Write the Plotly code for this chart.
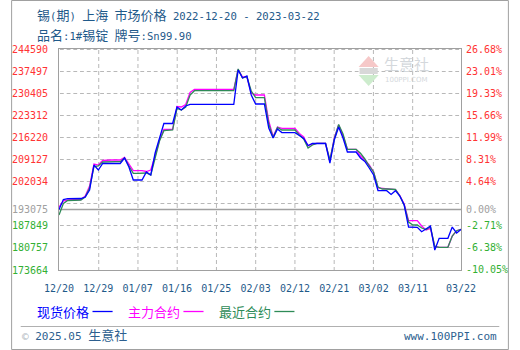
import math
import re
import pandas as pd
import plotly.graph_objects as go

# ---------------- data ----------------
DATES = pd.date_range("2022-12-20", "2023-03-22", freq="D").strftime("%Y-%m-%d").tolist()

# 现货价格 (spot)
SPOT = [
    193075, 196290, 196550, 196550, 196550, 196610,                      # 12/20-12/25
    197090, 199340, 207360, 205760, 207840, 207840, 207840,              # 12/26-01/01
    207840, 207840, 209610, 206720, 202550, 202550, 202550,              # 01/02-01/08
    205120, 204150, 211210, 216030, 220680, 220680, 220680,              # 01/09-01/15
    225980, 225010, 226300, 226840, 226840, 226840, 226840,              # 01/16-01/22
    226840, 226840, 226840, 226840, 226840, 226840, 226840,              # 01/23-01/29
    237850, 235280, 235920, 229830, 226940, 226940, 226940,              # 01/30-02/05
    219240, 216030, 218920, 217790, 217730, 217730, 217730,              # 02/06-02/12
    216830, 215870, 213620, 214260, 214260, 214260, 214260,              # 02/13-02/19
    208000, 215390, 219560, 216030, 211530, 211530, 211530,              # 02/20-02/26
    209610, 208490, 206400, 204150, 199180, 199110, 199110,              # 02/27-03/05
    197890, 199110, 197410, 194520, 187460, 187370, 187370,              # 03/06-03/12
    185960, 186820, 187790, 180080, 183840, 183840, 183840,              # 03/13-03/19
    187460, 185540, 186660,                                              # 03/20-03/22
]

# 主力合约 (main contract)
MAIN = [
    193880, 195810, 196130, 196130, 196130, 196290,
    197410, 200620, 207680, 207360, 208810, 208970, 208970,
    208970, 208970, 209830, 207680, 205530, 205530, 205530,
    205280, 205760, 210250, 215390, 218760, 218820, 218820,
    226140, 225980, 226780, 230630, 231660, 231660, 231660,
    231660, 231660, 231660, 231660, 231660, 231660, 231660,
    238010, 235600, 235600, 230470, 229830, 229830, 229830,
    221480, 216510, 219560, 219140, 219140, 219140, 219140,
    217470, 216350, 213460, 214100, 214330, 214330, 214330,
    208650, 216030, 220200, 216670, 212400, 212400, 212400,
    210250, 208970, 207360, 205120, 199980, 199880, 199880,
    199560, 199500, 197570, 194850, 189490, 189490, 189490,
    187790, 186500, 187050, 181210, 180950, 180950, 180950,
    184580, 186280, 186730,
]

# 最近合约 (nearest contract)
NEAR = [
    191320, 195010, 195970, 195970, 195970, 196130,
    197090, 199980, 206880, 207040, 208320, 208420, 208420,
    208420, 208420, 209610, 207040, 204700, 204700, 204700,
    204790, 204150, 209930, 215060, 218370, 218590, 218590,
    225490, 225010, 225980, 229830, 231210, 231210, 231210,
    231210, 231210, 231210, 231210, 231210, 231210, 231210,
    238170, 235280, 235700, 231110, 228960, 228960, 228960,
    220520, 216190, 219400, 218590, 218590, 218590, 218590,
    216990, 215710, 212820, 213780, 214330, 214330, 214330,
    208970, 215710, 220360, 217310, 212400, 212400, 212400,
    211120, 209290, 207040, 205120, 200300, 199660, 199660,
    199560, 199500, 197410, 194520, 189070, 188110, 188110,
    187140, 186660, 187560, 181210, 180950, 180950, 180950,
    184580, 186280, 186730,
]

SERIES_NAMES = ["现货价格", "主力合约", "最近合约"]
SERIES_COLORS = ["#0000ff", "#ff00ff", "#2e8b57"]

BASE = SPOT[0]
Y_MIN, Y_MAX = 173664, 244590
LEFT_TICKS = [244590, 237497, 230405, 223312, 216220, 209127, 202034, 193075, 187849, 180757, 173664]
GRID_Y = [180757, 187849, 194942, 202034, 209127, 216220, 223312, 230405, 237497, 244590]
RIGHT_TICKS = [26.68, 23.01, 19.33, 15.66, 11.99, 8.31, 4.64, 0.00, -2.71, -6.38, -10.05]
X_TICKS = ["2022-12-20", "2022-12-29", "2023-01-07", "2023-01-16", "2023-01-25", "2023-02-03",
           "2023-02-12", "2023-02-21", "2023-03-02", "2023-03-11", "2023-03-22"]
X_LABELS = ["12/20", "12/29", "01/07", "01/16", "01/25", "02/03",
            "02/12", "02/21", "03/02", "03/11", "03/22"]

TITLE1 = "锡(期) 上海 市场价格 2022-12-20 - 2023-03-22"
TITLE2 = "品名:1#锡锭 牌号:Sn99.90"
FOOT_LEFT = "2025.05 生意社"
FOOT_RIGHT = "www.100PPI.com"

# ---------------- style ----------------
RED, GRAY, GREEN = "#ff3333", "#a0a0a0", "#33b033"
TEXTBLUE = "#1f5a8a"
MONO = "DejaVu Sans Mono, Noto Sans CJK SC"
GRIDC = "#b8b8b8"
DASH_ON, DASH_OFF = 4, 3   # px

W, H = 520, 350
L, R, T, B = 50, 50, 49, 80
PW, PH = W - L - R, H - T - B


def px(x):
    return (x - L) / PW


def py(y):
    return (H - B - y) / PH


def mix(s, size=13):
    return re.sub(r"([\u3000-\u9fff]+)",
                  lambda m: f'<span style="font-size:{size}px">{m.group(1)}</span>', s)


def col(v, ref, eps=1e-9):
    return RED if v > ref + eps else (GRAY if abs(v - ref) <= eps else GREEN)


def pct(v):
    return (v / BASE - 1) * 100


left_text = [f'<span style="color:{col(v, BASE)}">{v}</span>' for v in LEFT_TICKS]
right_text = [f'<span style="color:{col(p, 0)}">{p:.2f}%</span>' for p in RIGHT_TICKS]

fig = go.Figure()
for name, ys, c in [(SERIES_NAMES[1], MAIN, SERIES_COLORS[1]),
                    (SERIES_NAMES[2], NEAR, SERIES_COLORS[2]),
                    (SERIES_NAMES[0], SPOT, SERIES_COLORS[0])]:
    fig.add_trace(go.Scatter(x=DATES, y=ys, mode="lines", name=name,
                             line=dict(color=c, width=1.3), yaxis="y"))
# percent axis carrier (draws nothing, only registers the right-hand axis)
fig.add_trace(go.Scatter(x=[DATES[0], DATES[-1]], y=[pct(Y_MIN), pct(Y_MAX)], mode="none",
                         yaxis="y2", hoverinfo="skip", showlegend=False))

tickfont = dict(family="DejaVu Sans Mono", size=10)
hidden_tick = dict(ticks="outside", tickcolor="rgba(0,0,0,0)", tickwidth=1)

fig.update_layout(
    width=W, height=H, margin=dict(l=L, r=R, t=T, b=B),
    paper_bgcolor="white", plot_bgcolor="rgba(0,0,0,0)", showlegend=False,
    xaxis=dict(type="date", range=[DATES[0], DATES[-1]], tickvals=X_TICKS, ticktext=X_LABELS,
               showgrid=False, showline=True, mirror=True, linecolor=GRAY, linewidth=1,
               zeroline=False, ticklen=9, **hidden_tick,
               tickfont=dict(tickfont, color=TEXTBLUE)),
    yaxis=dict(range=[Y_MIN, Y_MAX], tickvals=LEFT_TICKS, ticktext=left_text,
               showgrid=False, showline=True, mirror=True, linecolor=GRAY, linewidth=1,
               zeroline=False, ticklen=8, **hidden_tick, tickfont=tickfont),
    yaxis2=dict(overlaying="y", side="right", range=[pct(Y_MIN), pct(Y_MAX)],
                tickvals=RIGHT_TICKS, ticktext=right_text, showgrid=False,
                zeroline=False, showline=False, ticklen=2, **hidden_tick,
                tickfont=tickfont),
)

shapes = []
YSPAN = Y_MAX - Y_MIN


def py_to_val(yp):
    return Y_MAX - (yp - T) / PH * YSPAN


def dash_line(x0p, x1p, v0, v1):
    return dict(type="line", xref="paper", yref="y", x0=x0p, x1=x1p, y0=v0, y1=v1,
                line=dict(color=GRIDC, width=1), layer="below")


# dashed horizontal grid: short solid line segments, snapped to pixel centres
for g in GRID_Y:
    yp = T + (Y_MAX - g) / YSPAN * PH
    yp = min(math.floor(yp) + 0.5, T + PH - 0.5)
    v = py_to_val(yp)
    a = 1
    while a < PW:
        b = min(a + DASH_ON, PW)
        shapes.append(dash_line(a / PW, b / PW, v, v))
        a = b + DASH_OFF

# dashed vertical grid at the date ticks
x_start = pd.Timestamp(DATES[0])
x_span = (pd.Timestamp(DATES[-1]) - x_start).days
for d in X_TICKS[1:-1]:
    xp = L + (pd.Timestamp(d) - x_start).days / x_span * PW
    xp = math.floor(xp) + 0.5
    xpp = (xp - L) / PW
    a = 1
    while a < PH:
        b = min(a + DASH_ON, PH)
        shapes.append(dash_line(xpp, xpp, py_to_val(T + a), py_to_val(T + b)))
        a = b + DASH_OFF

# base (0.00%) line
shapes.append(dict(type="line", xref="paper", yref="y", x0=0, x1=1, y0=BASE, y1=BASE,
                   line=dict(color=GRAY, width=1.5), layer="below"))
# outer border
shapes.append(dict(type="rect", xref="paper", yref="paper", x0=px(0.5), x1=px(W - 0.5),
                   y0=py(H - 0.5), y1=py(0.5), line=dict(color="#a0a0a0", width=1)))
# footer separator
shapes.append(dict(type="line", xref="paper", yref="paper", x0=px(10), x1=px(510),
                   y0=py(326.5), y1=py(326.5), line=dict(color="#b0b0b0", width=1)))

annotations = []


def ann(x, y, text, size=11, color=TEXTBLUE, xanchor="left", family=MONO):
    annotations.append(dict(xref="paper", yref="paper", x=px(x), y=py(y), text=text,
                            showarrow=False, xanchor=xanchor, yanchor="middle",
                            font=dict(family=family, size=size, color=color)))


ann(25, 15, mix(TITLE1), size=10.6)
ann(25, 35, mix(TITLE2), size=10.6)

# custom legend: text followed by a line sample
leg_x = [25, 120, 215]
for i, k in enumerate([0, 1, 2]):
    x0 = leg_x[i]
    ann(x0, 311, SERIES_NAMES[k], size=13, color=SERIES_COLORS[k], family="Noto Sans CJK SC")
    shapes.append(dict(type="line", xref="paper", yref="paper", x0=px(x0 + 60), x1=px(x0 + 81),
                       y0=py(311.5), y1=py(311.5), line=dict(color=SERIES_COLORS[k], width=1.3)))

# footer
ann(9, 335, '<span style="color:#b0b8c0">©</span> ' + mix(FOOT_LEFT), size=11, color="#2d5f8f")
ann(510, 336, FOOT_RIGHT, size=11, color="#2d5f8f", xanchor="right")

# watermark
ann(387, 63, "生意社", size=15, color="#d4d8dc", family="Noto Sans CJK SC")
ann(389, 80, "100PPI.COM", size=7, color="#d4d8dc", family="DejaVu Sans")
shapes.append(dict(type="path", xref="paper", yref="paper",
                   path=f"M {px(363)},{py(67)} L {px(384)},{py(67)} L {px(373.5)},{py(56)} Z",
                   fillcolor="#f6c8c8", line=dict(width=0)))
shapes.append(dict(type="rect", xref="paper", yref="paper", x0=px(364), x1=px(383),
                   y0=py(74), y1=py(68), fillcolor="#d8d8d8", line=dict(width=0)))
shapes.append(dict(type="path", xref="paper", yref="paper",
                   path=f"M {px(363)},{py(75)} L {px(384)},{py(75)} L {px(373.5)},{py(86)} Z",
                   fillcolor="#cdeccd", line=dict(width=0)))

fig.update_layout(shapes=shapes, annotations=annotations)
fig.write_html("out.html")
